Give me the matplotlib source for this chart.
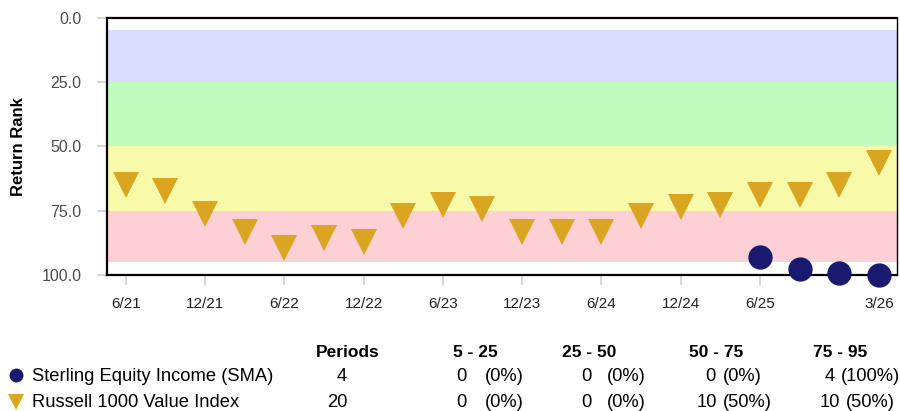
import matplotlib
matplotlib.use("Agg")
import matplotlib.pyplot as plt
from matplotlib.lines import Line2D

plt.rcParams["font.family"] = ["Liberation Sans", "DejaVu Sans"]

# quarterly periods, 6/21 .. 3/26
quarters = ["6/21", "9/21", "12/21", "3/22", "6/22", "9/22", "12/22", "3/23",
            "6/23", "9/23", "12/23", "3/24", "6/24", "9/24", "12/24", "3/25",
            "6/25", "9/25", "12/25", "3/26"]
tick_labels = ["6/21", "", "12/21", "", "6/22", "", "12/22", "", "6/23", "",
               "12/23", "", "6/24", "", "12/24", "", "6/25", "", "", "3/26"]
tick_shown = [0, 2, 4, 6, 8, 10, 12, 14, 16, 18, 19]

index_rank = [65.0, 67.2, 76.4, 83.4, 89.5, 85.7, 87.3, 77.2, 72.7, 74.2,
              83.4, 83.4, 83.4, 77.2, 73.5, 72.7, 68.8, 68.8, 64.9, 56.4]
fund_quarters = ["6/25", "9/25", "12/25", "3/26"]
fund_rank = [92.9, 97.7, 99.3, 99.9]

bands = [(5, 25), (25, 50), (50, 75), (75, 95)]
band_colors = ["#d9dcff", "#c0fabc", "#f9f9aa", "#fcd0d4"]

series_names = ["Sterling Equity Income (SMA)", "Russell 1000 Value Index"]
periods = [4, 20]
band_headers = ["5 - 25", "25 - 50", "50 - 75", "75 - 95"]
band_counts = [[0, 0, 0, 4], [0, 0, 10, 10]]

fund_color = "#191970"
index_color = "#daa520"

W, H = 900, 411
fig = plt.figure(figsize=(W / 100, H / 100), dpi=100)
ax = fig.add_axes([106.7 / W, 1 - 275 / H, 790 / W, 257.5 / H])

for (lo, hi), c in zip(bands, band_colors):
    ax.axhspan(lo, hi, color=c, lw=0, zorder=0)

xs = list(range(len(quarters)))
ax.plot(xs, index_rank, ls="none", marker="v", ms=19, mew=0,
        color=index_color, zorder=3, clip_on=False)
fx = [quarters.index(q) for q in fund_quarters]
ax.plot(fx, fund_rank, ls="none", marker="o", ms=17.5, mew=0,
        color=fund_color, zorder=4, clip_on=False)

ax.set_xlim(-0.48, 19.45)
ax.set_ylim(100, 0)
ax.set_yticks([0, 25, 50, 75, 100])
ax.set_yticklabels(["0.0", "25.0", "50.0", "75.0", "100.0"])
ax.set_xticks(tick_shown)
ax.set_xticklabels([tick_labels[i] for i in tick_shown])
ax.tick_params(axis="y", length=7, color="#d0d0d0", width=1.2, pad=11,
               labelsize=11.5, labelcolor="#4d4d4d")
ax.tick_params(axis="x", length=7, color="#d0d0d0", width=1.2, pad=9,
               labelsize=11, labelcolor="#222222")
for s in ax.spines.values():
    s.set_linewidth(1.6)
ax.spines["right"].set_linewidth(1.0)
ax.set_ylabel("Return Rank", fontsize=12, fontweight="bold")
ax.yaxis.set_label_coords(-0.102, 0.5)


def px(x, y):
    return x / W, 1 - y / H


# summary table under the chart
fig.text(*px(348, 356.5), "Periods", ha="center", va="baseline",
         fontsize=12.5, fontweight="bold")
hdr_x = [453, 562, 689, 813]
for x, h in zip(hdr_x, band_headers):
    fig.text(*px(x, 356.5), h, ha="left", va="baseline", fontsize=12.5,
             fontweight="bold")

row_y = [380.5, 406.5]
marker_y = [375, 402]
markers = ["o", "v"]
colors = [fund_color, index_color]
msizes = [10, 11]
cnt_right = [[467, 592, 715, 835], [467, 592, 717, 840]]
pct_left = [[485, 607, 723, 841], [485, 607, 723, 846]]
for r in range(2):
    y = row_y[r]
    fig.add_artist(Line2D([16 / W], [1 - marker_y[r] / H], marker=markers[r],
                          ms=msizes[r], mew=0, color=colors[r],
                          transform=fig.transFigure))
    fig.text(*px(32, y), series_names[r], ha="left", va="baseline",
             fontsize=13.2)
    fig.text(*px(347, y), str(periods[r]), ha="right", va="baseline",
             fontsize=13.2)
    total = periods[r]
    for c in range(4):
        n = band_counts[r][c]
        pct = round(100 * n / total)
        fig.text(*px(cnt_right[r][c], y), str(n), ha="right", va="baseline",
                 fontsize=13.2)
        fig.text(*px(pct_left[r][c], y), f"({pct}%)", ha="left",
                 va="baseline", fontsize=13.2)

fig.savefig("out.png", dpi=100)
